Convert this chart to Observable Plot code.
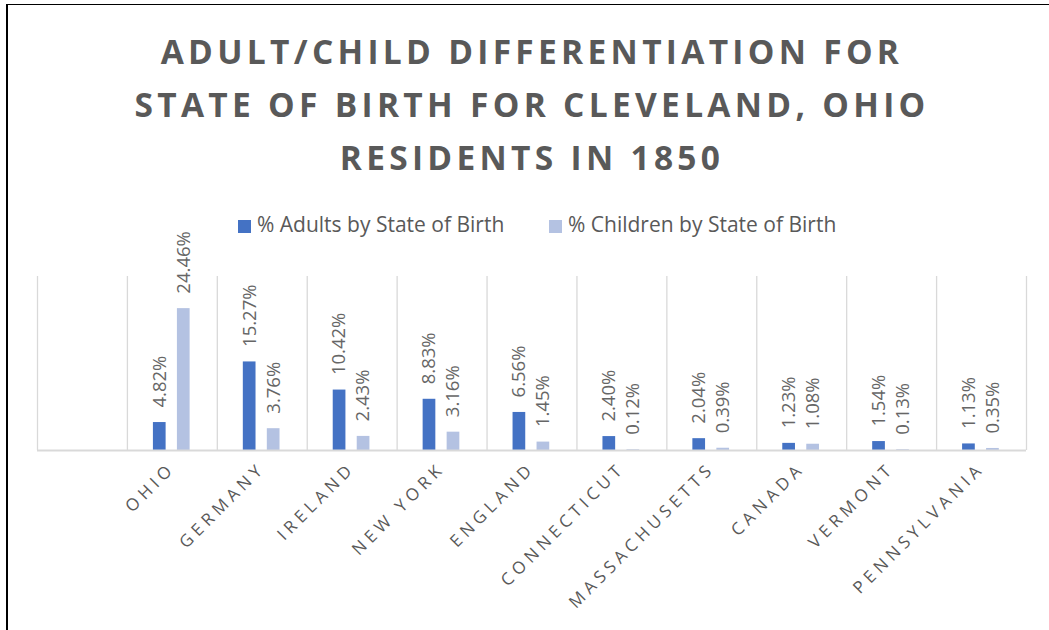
<!DOCTYPE html>
<html>
<head>
<meta charset="utf-8">
<script src="https://cdn.jsdelivr.net/npm/d3@7"></script>
<script src="https://cdn.jsdelivr.net/npm/@observablehq/plot@0.6"></script>
<style>
  html, body { margin: 0; padding: 0; background: #fff; }
  body { width: 1049px; height: 630px; position: relative; overflow: hidden; font-family: "Open Sans", sans-serif; }
  #frame { position: absolute; left: 6px; top: 4px; width: 1049px; height: 640px; border-top: 1.5px solid #000; border-left: 2px solid #000; }
  #title { position: absolute; left: 15px; top: 25px; width: 1034px; text-align: center; font-weight: 700; font-size: 33.5px; line-height: 53px; letter-spacing: 4.3px; color: #595959; }
  .leg { position: absolute; top: 209px; font-size: 21px; color: #595959; white-space: nowrap; line-height: 30px; }
  .sw { display: inline-block; width: 13px; height: 13px; margin-right: 6px; vertical-align: -1px; }
  #chart { position: absolute; left: 0; top: 240px; }
  g[aria-label="x-axis tick label"] { fill: #595959; letter-spacing: 4.6px; }
</style>
</head>
<body>
<div id="frame"></div>
<div id="title">ADULT/CHILD DIFFERENTIATION FOR<br>STATE OF BIRTH FOR CLEVELAND, OHIO<br>RESIDENTS IN 1850</div>
<div id="legend"></div>
<div id="chart"></div>
<script>
const categories = [" ", "OHIO", "GERMANY", "IRELAND", "NEW YORK", "ENGLAND", "CONNECTICUT", "MASSACHUSETTS", "CANADA", "VERMONT", "PENNSYLVANIA"];
const adults   = [null, 4.82, 15.27, 10.42, 8.83, 6.56, 2.40, 2.04, 1.23, 1.54, 1.13];
const children = [null, 24.46, 3.76, 2.43, 3.16, 1.45, 0.12, 0.39, 1.08, 0.13, 0.35];
const seriesNames = ["% Adults by State of Birth", "% Children by State of Birth"];
const seriesColors = ["#4472C4", "#B4C2E2"];

// legend
const legend = document.getElementById("legend");
const legLeft = [238, 549];
seriesNames.forEach((n, i) => {
  const d = document.createElement("div");
  d.className = "leg";
  d.style.left = legLeft[i] + "px";
  d.innerHTML = `<span class="sw" style="background:${seriesColors[i]}"></span>${n}`;
  legend.appendChild(d);
});

const W = 1049, H = 390, ML = 37, MR = 23, MT = 36, MB = 180;
const step = (W - ML - MR) / categories.length;
const barW = 12.7;
const aLeft = 26, cLeft = 50;
const aDx = aLeft + barW / 2 - step / 2;
const cDx = cLeft + barW / 2 - step / 2;

const rows = categories.map((c, i) => ({cat: c, adult: adults[i], child: children[i]}));
const rowsA = rows.filter(d => d.adult != null);
const rowsC = rows.filter(d => d.child != null);
const fmt = v => v.toFixed(2) + "%";

const plot = Plot.plot({
  width: W, height: H,
  marginLeft: ML, marginRight: MR, marginTop: MT, marginBottom: MB,
  style: {fontFamily: "Open Sans, sans-serif", background: "transparent", overflow: "visible"},
  x: {domain: categories, padding: 0, round: false},
  y: {domain: [0, 30], axis: null},
  marks: [
    Plot.ruleX(categories, {x: d => d, dx: -step / 2, y1: 0, y2: 30, stroke: "#d9d9d9", strokeWidth: 1.3}),
    Plot.ruleX([categories[categories.length - 1]], {x: d => d, dx: step / 2, y1: 0, y2: 30, stroke: "#d9d9d9", strokeWidth: 1.3}),
    Plot.barY(rowsA, {x: "cat", y: "adult", fill: seriesColors[0], insetLeft: aLeft, insetRight: step - aLeft - barW}),
    Plot.barY(rowsC, {x: "cat", y: "child", fill: seriesColors[1], insetLeft: cLeft, insetRight: step - cLeft - barW}),
    Plot.ruleY([0], {stroke: "#d9d9d9", strokeWidth: 2}),
    Plot.text(rowsA, {x: "cat", y: "adult", text: d => fmt(d.adult), rotate: -90, textAnchor: "start", dx: aDx, dy: -15, fontSize: 18.5, fill: "#666"}),
    Plot.text(rowsC, {x: "cat", y: "child", text: d => fmt(d.child), rotate: -90, textAnchor: "start", dx: cDx, dy: -15, fontSize: 18.5, fill: "#666"}),
    Plot.axisX({tickRotate: -45, tickSize: 0, tickPadding: 15, fontSize: 17, label: null})
  ]
});
document.getElementById("chart").appendChild(plot);
</script>
</body>
</html>
